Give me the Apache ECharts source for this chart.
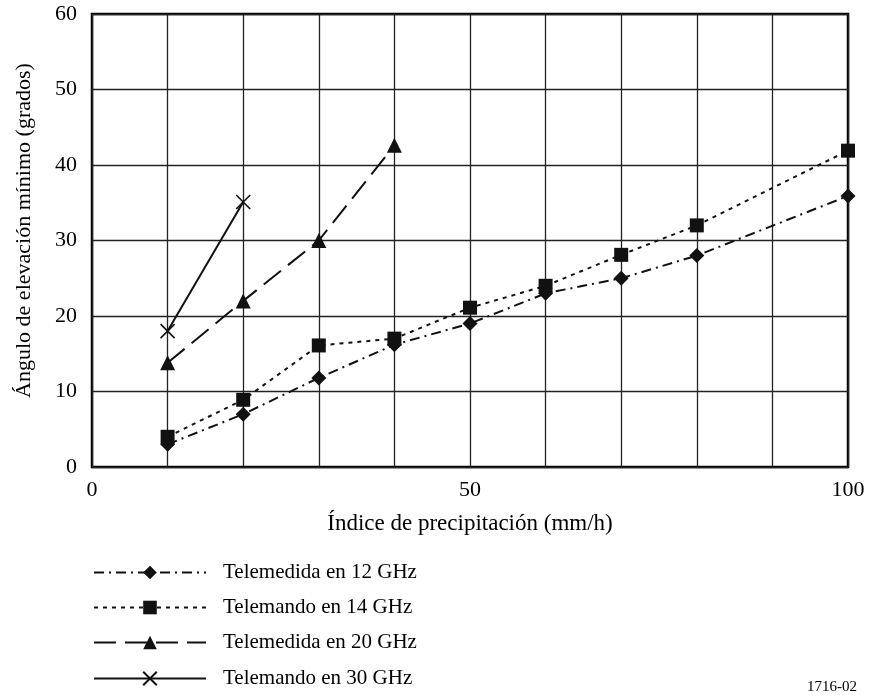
<!DOCTYPE html>
<html><head><meta charset="utf-8">
<script src="https://cdn.jsdelivr.net/npm/echarts@6/dist/echarts.min.js"></script>
<style>html,body{margin:0;padding:0;background:#fff}#c{width:870px;height:700px}</style>
</head><body><div id="c"></div>
<script>
const xTicks = [0, 50, 100];
const yTicks = [0, 10, 20, 30, 40, 50, 60];
const names = ['Telemedida en 12 GHz', 'Telemando en 14 GHz', 'Telemedida en 20 GHz', 'Telemando en 30 GHz'];
const x12 = [10, 20, 30, 40, 50, 60, 70, 80, 100];
const y12 = [3, 7, 11.8, 16.2, 19, 23, 25, 28, 35.9];
const x14 = [10, 20, 30, 40, 50, 60, 70, 80, 100];
const y14 = [4, 8.9, 16.1, 17, 21.1, 24, 28.1, 32, 41.9];
const x20 = [10, 20, 30, 40];
const y20 = [13.8, 22, 30, 42.6];
const x30 = [10, 20];
const y30 = [18, 35.1];

const font = 'Liberation Serif, Times New Roman, serif';
const pair = (xs, ys) => xs.map((x, i) => [x, ys[i]]);
const crossPath = 'path://M0,0L10,10M10,0L0,10';

const legendRowsY = [573, 608, 643, 679];
const legends = names.map((n, i) => ({
  orient: 'vertical', left: 93, top: legendRowsY[i] - 11, itemWidth: 112, itemHeight: 17, itemGap: 0,
  padding: 0,
  textStyle: { fontFamily: font, fontSize: 21, color: '#000', padding: [0, 0, 0, 12] },
  data: [n]
}));

const chart = echarts.init(document.getElementById('c'));
chart.setOption({
  backgroundColor: '#fff',
  animation: false,
  textStyle: { fontFamily: font, color: '#000' },
  grid: { left: 92, right: 22, top: 14, bottom: 233, show: true, borderColor: '#000', borderWidth: 2.5 },
  xAxis: {
    type: 'value', min: 0, max: 100, interval: 10,
    name: 'Índice de precipitación (mm/h)', nameLocation: 'middle', nameGap: 45,
    nameTextStyle: { fontFamily: font, fontSize: 23, color: '#000' },
    axisLine: { show: false }, axisTick: { show: false },
    splitLine: { show: true, lineStyle: { color: '#222', width: 1.3 } },
    axisLabel: { fontFamily: font, fontSize: 22, color: '#000', margin: 12,
      formatter: v => xTicks.includes(v) ? String(v) : '' }
  },
  yAxis: {
    type: 'value', min: 0, max: 60, interval: 10,
    name: 'Ángulo de elevación mínimo (grados)', nameLocation: 'middle', nameGap: 57,
    nameTextStyle: { fontFamily: font, fontSize: 22, color: '#000', padding: [0, 0, 0, 20] },
    axisLine: { show: false }, axisTick: { show: false },
    splitLine: { show: true, lineStyle: { color: '#222', width: 1.3 } },
    axisLabel: { fontFamily: font, fontSize: 22, color: '#000', margin: 15,
      formatter: v => yTicks.includes(v) ? String(v) : '' }
  },
  legend: legends,
  series: [
    { name: names[0], type: 'line', data: pair(x12, y12), symbol: 'diamond', symbolSize: 15,
      itemStyle: { color: '#111' }, lineStyle: { color: '#111', width: 2, type: [10, 5, 2, 5] } },
    { name: names[1], type: 'line', data: pair(x14, y14), symbol: 'rect', symbolSize: 14,
      itemStyle: { color: '#111' }, lineStyle: { color: '#111', width: 2, type: [4, 5] } },
    { name: names[2], type: 'line', data: pair(x20, y20), symbol: 'triangle', symbolSize: 15,
      itemStyle: { color: '#111' }, lineStyle: { color: '#111', width: 2, type: [22, 9] } },
    { name: names[3], type: 'line', data: pair(x30, y30), symbol: crossPath, symbolSize: 14,
      itemStyle: { color: 'none', borderColor: '#111', borderWidth: 1.6 },
      lineStyle: { color: '#111', width: 2, type: 'solid' } }
  ],
  graphic: [
    { type: 'text', left: 807, top: 680, style: { text: '1716-02', font: '15px ' + font, fill: '#000' } }
  ]
});
</script></body></html>
